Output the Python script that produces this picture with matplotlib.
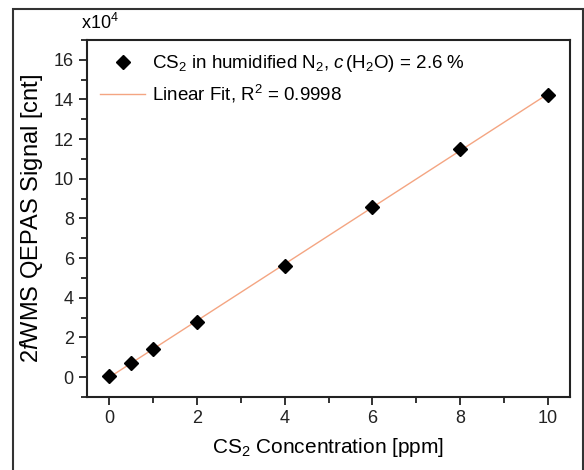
import numpy as np
import matplotlib
matplotlib.use('Agg')
import matplotlib.pyplot as plt
from matplotlib.patches import Rectangle
from matplotlib.ticker import MultipleLocator, FuncFormatter

plt.rcParams['font.family'] = ['Liberation Sans', 'DejaVu Sans']
plt.rcParams['mathtext.fontset'] = 'custom'
plt.rcParams['mathtext.rm'] = 'Liberation Sans'
plt.rcParams['mathtext.it'] = 'Liberation Sans:italic'

# CS2 concentration [ppm] vs. 2f WMS signal [cnt]
conc = [0, 0.5, 1, 2, 4, 6, 8, 10]
signal = [500, 7000, 14000, 28000, 56000, 86000, 115000, 142500]
r2_label = '0.9998'

fig = plt.figure(figsize=(5.84, 4.7), dpi=100)
fig.patches.append(Rectangle((13/584, -0.02), 570/584, 1 - 9/470 + 0.02,
                             transform=fig.transFigure, fill=False,
                             edgecolor='#333333', linewidth=1.5))
ax = fig.add_axes([87/584, 73/470, 483/584, 357/470])

x = np.array(conc)
y = np.array(signal) / 1e4
p = np.polyfit(x, y, 1)
xf = np.array([min(conc), max(conc)])
ax.plot(xf, np.polyval(p, xf), color='#F4A582', lw=1,
        label='Linear Fit, R$^2$ = ' + r2_label, zorder=2)
ax.plot(x, y, 'D', color='black', ms=7, ls='none',
        label='CS$_2$ in humidified N$_2$, $c\\,$(H$_2$O) = 2.6 %', zorder=3)

ax.set_xlim(-0.5, 10.5)
ax.set_ylim(-1, 17)
ax.xaxis.set_major_locator(MultipleLocator(2))
ax.xaxis.set_minor_locator(MultipleLocator(1))
ax.yaxis.set_major_locator(MultipleLocator(2))
ax.yaxis.set_minor_locator(MultipleLocator(1))
ax.yaxis.set_major_formatter(FuncFormatter(lambda v, pos: '%d' % v))
ax.tick_params(which='both', direction='out', top=False, right=False,
               width=1.3, labelsize=13, colors='#222222')
ax.tick_params(which='major', length=6)
ax.tick_params(which='minor', length=4)
for s in ax.spines.values():
    s.set_linewidth(1.5)
    s.set_color('#222222')

ax.set_xlabel('CS$_2$ Concentration [ppm]', fontsize=15, labelpad=6)
ax.set_ylabel('2$f$WMS QEPAS Signal [cnt]', fontsize=17, labelpad=6)
ax.text(0.027, 1.02, 'x10$^4$', transform=ax.transAxes, fontsize=13,
        ha='center', va='bottom')

h, l = ax.get_legend_handles_labels()
ax.legend(h[::-1], l[::-1], loc='upper left', frameon=False, fontsize=13.5,
          handlelength=2.4, handletextpad=0.35, borderaxespad=0.3,
          labelspacing=0.45, bbox_to_anchor=(0.0, 1.0))

fig.savefig('out.png', dpi=100)
